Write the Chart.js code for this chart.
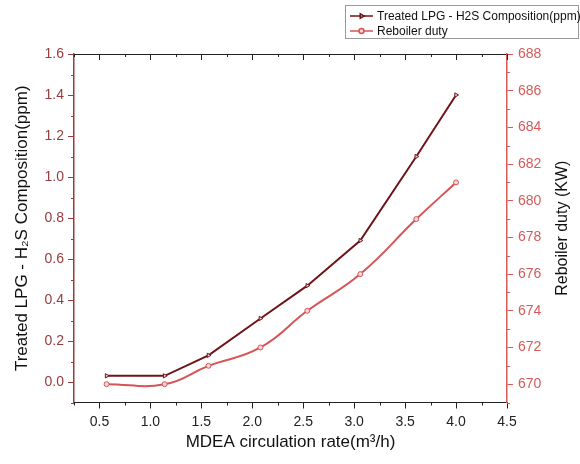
<!DOCTYPE html>
<html>
<head>
<meta charset="utf-8">
<script src="https://cdn.jsdelivr.net/npm/chart.js@4.4.0/dist/chart.umd.min.js"></script>
<style>
  html, body { margin: 0; padding: 0; background: #fff; }
  #wrap { width: 580px; height: 464px; }
</style>
</head>
<body>
<div id="wrap"><canvas id="chart" width="580" height="464"></canvas></div>
<script>
// ------------------- DATA -------------------
const circulationRate = [0.57, 1.14, 1.57, 2.08, 2.54, 3.06, 3.61, 4.0];
const h2sComposition = [0.03, 0.03, 0.13, 0.31, 0.47, 0.69, 1.10, 1.40];
const reboilerDuty = [670.0, 670.0, 671.0, 672.0, 674.0, 676.0, 679.0, 681.0];

const xTicks = [0.5, 1.0, 1.5, 2.0, 2.5, 3.0, 3.5, 4.0, 4.5];
const leftTicks = [0.0, 0.2, 0.4, 0.6, 0.8, 1.0, 1.2, 1.4, 1.6];
const rightTicks = [670, 672, 674, 676, 678, 680, 682, 684, 686, 688];

const seriesNames = ["Treated LPG - H2S Composition(ppm)", "Reboiler duty"];

// ------------------- STYLE -------------------
const FONT = "'Liberation Sans', Arial, sans-serif";
const H2S_COLOR = "#6f1417";
const DUTY_COLOR = "#d65456";
const LEFT_AXIS = "#963c3c";
const RIGHT_AXIS = "#d65a5a";

function toPoints(xs, ys) {
    return xs.map((x, i) => ({ x: x, y: ys[i] }));
}

function setTicks(values) {
    return scale => { scale.ticks = values.map(v => ({ value: v })); };
}

// minor ticks + top frame ticks, drawn against the library scales
const minorTicks = {
    id: "minorTicks",
    afterDraw(chart) {
        const ctx = chart.ctx;
        const area = chart.chartArea;
        const sx = chart.scales.x, sy = chart.scales.y, sy1 = chart.scales.y1;
        ctx.save();
        ctx.lineWidth = 1;

        // x minors (bottom outward, top inward)
        ctx.strokeStyle = "#222";
        for (let v = 0.25; v <= 4.5001; v += 0.5) {
            const px = Math.round(sx.getPixelForValue(v)) + 0.5;
            ctx.beginPath();
            ctx.moveTo(px, area.bottom); ctx.lineTo(px, area.bottom + 3);
            ctx.moveTo(px, area.top); ctx.lineTo(px, area.top + 3);
            ctx.stroke();
        }

        // top majors, pointing inward
        xTicks.forEach(v => {
            const px = Math.round(sx.getPixelForValue(v)) + 0.5;
            ctx.beginPath();
            ctx.moveTo(px, area.top); ctx.lineTo(px, area.top + 6);
            ctx.stroke();
        });

        // left minors
        ctx.strokeStyle = LEFT_AXIS;
        for (let v = -0.1; v <= 1.6; v += 0.2) {
            const py = Math.round(sy.getPixelForValue(v)) + 0.5;
            ctx.beginPath();
            ctx.moveTo(area.left, py); ctx.lineTo(area.left - 3, py);
            ctx.stroke();
        }

        // right minors
        ctx.strokeStyle = RIGHT_AXIS;
        for (let v = 669; v <= 688; v += 2) {
            const py = Math.round(sy1.getPixelForValue(v)) + 0.5;
            ctx.beginPath();
            ctx.moveTo(area.right, py); ctx.lineTo(area.right + 3, py);
            ctx.stroke();
        }

        // right axis title, reading bottom to top
        ctx.fillStyle = "#111";
        ctx.font = "16px " + FONT;
        ctx.textAlign = "center";
        ctx.textBaseline = "middle";
        ctx.translate(563, (area.top + area.bottom) / 2);
        ctx.rotate(-Math.PI / 2);
        ctx.fillText("Reboiler duty (KW)", 0, 0);
        ctx.restore();
    }
};

// boxed legend at the top right
const boxLegend = {
    id: "boxLegend",
    afterDraw(chart) {
        const ctx = chart.ctx;
        const left = 345, top = 5, right = 578, bottom = 38;
        ctx.save();
        ctx.strokeStyle = "#9a9a9a";
        ctx.lineWidth = 1;
        ctx.strokeRect(left + 0.5, top + 0.5, right - left, bottom - top);

        chart.data.datasets.forEach((ds, i) => {
            const y = 16 + i * 15;
            ctx.strokeStyle = ds.borderColor;
            ctx.lineWidth = 1.5;
            ctx.beginPath();
            ctx.moveTo(350, y); ctx.lineTo(373, y);
            ctx.stroke();
            ctx.fillStyle = ds.pointBackgroundColor;
            ctx.strokeStyle = ds.pointBorderColor;
            Chart.helpers.drawPoint(ctx, {
                pointStyle: ds.pointStyle,
                rotation: ds.pointRotation || 0,
                radius: 2.5,
                borderWidth: 1
            }, 361.5, y);
            ctx.fillStyle = "#111";
            ctx.font = "12px " + FONT;
            ctx.textAlign = "left";
            ctx.textBaseline = "middle";
            ctx.fillText(ds.label, 377, y + 0.5);
        });
        ctx.restore();
    }
};

new Chart(document.getElementById("chart"), {
    type: "line",
    data: {
        datasets: [
            {
                label: seriesNames[0],
                data: toPoints(circulationRate, h2sComposition),
                yAxisID: "y",
                borderColor: H2S_COLOR,
                borderWidth: 2,
                tension: 0,
                pointStyle: "triangle",
                pointRotation: 90,
                pointRadius: 2.5,
                pointBackgroundColor: "#e6dcdc",
                pointBorderColor: H2S_COLOR,
                pointBorderWidth: 1
            },
            {
                label: seriesNames[1],
                data: toPoints(circulationRate, reboilerDuty),
                yAxisID: "y1",
                borderColor: DUTY_COLOR,
                borderWidth: 2,
                tension: 0.45,
                pointStyle: "circle",
                pointRadius: 2.5,
                pointBackgroundColor: "#f0d6d6",
                pointBorderColor: DUTY_COLOR,
                pointBorderWidth: 1
            }
        ]
    },
    options: {
        responsive: false,
        animation: false,
        devicePixelRatio: 1,
        layout: { padding: { top: 54, left: 0, right: 0, bottom: 0 } },
        plugins: {
            legend: { display: false },
            tooltip: { enabled: false }
        },
        scales: {
            x: {
                type: "linear",
                position: "bottom",
                min: 0.25,
                max: 4.5,
                afterBuildTicks: setTicks(xTicks),
                afterFit: s => { s.height = 61.5; },
                border: { color: "#222", width: 1 },
                grid: { drawOnChartArea: false, tickLength: 6, color: "#222" },
                ticks: {
                    color: "#222",
                    padding: 5,
                    maxRotation: 0,
                    font: { family: FONT, size: 14 },
                    callback: v => v.toFixed(1)
                },
                title: {
                    display: true,
                    text: "MDEA circulation rate(m³/h)",
                    color: "#111",
                    font: { family: FONT, size: 17 },
                    padding: { top: 0, bottom: 11 }
                }
            },
            x2: {
                type: "linear",
                position: "top",
                min: 0.25,
                max: 4.5,
                afterBuildTicks: setTicks(xTicks),
                afterFit: s => { s.height = 0; },
                border: { color: "#222", width: 1 },
                grid: { drawOnChartArea: false, drawTicks: false },
                ticks: { display: false }
            },
            y: {
                type: "linear",
                position: "left",
                min: -0.1,
                max: 1.6,
                afterBuildTicks: setTicks(leftTicks),
                afterFit: s => { s.width = 74; },
                border: { color: LEFT_AXIS, width: 1.5 },
                grid: { drawOnChartArea: false, tickLength: 6, color: LEFT_AXIS },
                ticks: {
                    color: LEFT_AXIS,
                    padding: 4,
                    font: { family: FONT, size: 14 },
                    callback: v => v.toFixed(1)
                },
                title: {
                    display: true,
                    text: "Treated LPG - H₂S Composition(ppm)",
                    color: "#111",
                    font: { family: FONT, size: 17 },
                    padding: { top: 12, bottom: 0 }
                }
            },
            y1: {
                type: "linear",
                position: "right",
                min: 669,
                max: 688,
                afterBuildTicks: setTicks(rightTicks),
                afterFit: s => { s.width = 73; },
                border: { color: RIGHT_AXIS, width: 1.5 },
                grid: { drawOnChartArea: false, tickLength: 6, color: RIGHT_AXIS },
                ticks: {
                    color: RIGHT_AXIS,
                    padding: 5,
                    font: { family: FONT, size: 14 },
                    callback: v => String(v)
                }
            }
        }
    },
    plugins: [minorTicks, boxLegend]
});
</script>
</body>
</html>
